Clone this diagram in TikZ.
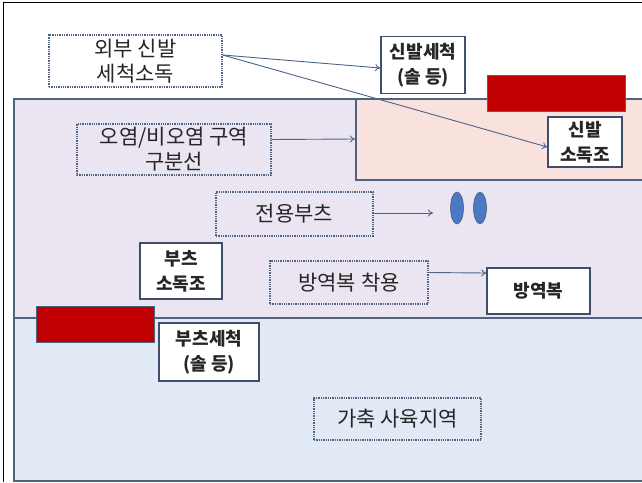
\documentclass[tikz,border=0pt]{standalone}
\usepackage{fontspec}
\setmainfont{Noto Sans CJK KR}
\usetikzlibrary{arrows.meta,shapes.geometric}
\definecolor{frameline}{RGB}{79,98,128}
\definecolor{boxline}{RGB}{63,79,107}
\definecolor{lavender}{RGB}{235,229,241}
\definecolor{peach}{RGB}{249,226,222}
\definecolor{farmblue}{RGB}{226,234,246}
\definecolor{matred}{RGB}{192,0,0}
\definecolor{bootblue}{RGB}{74,120,194}
\definecolor{arrowline}{RGB}{74,99,137}
\tikzset{
  dotbox/.style={draw=frameline, densely dotted, line width=1.3pt, text=black!85, font=\fontsize{21}{25}\selectfont, align=center, inner sep=0pt},
  solidbox/.style={draw=boxline, line width=1.5pt, fill=white, text=black!85, font=\fontsize{18}{25}\selectfont\bfseries, align=center, inner sep=0pt},
  flow/.style={draw=arrowline, line width=0.9pt, -{To[length=5pt,width=7pt]}}
}
\begin{document}
\begin{tikzpicture}[x=1pt,y=-1pt]
	\useasboundingbox (0,0) rectangle (642,482);
	
	%% areas
	\fill [white] (0,0) rectangle (642,482);
	\draw [black, line width=1pt] (3,482) -- (3,2) -- (642,2);
	\draw [frameline, line width=1.5pt, fill=lavender] (643,99) -- (14,99) -- (14,318) -- (643,318);
	\draw [frameline, line width=1.5pt, fill=peach] (643,99) -- (356,99) -- (356,180) -- (643,180);
	\draw [frameline, line width=1.5pt, fill=farmblue] (643,318) -- (14,318) -- (14,481) -- (643,481);
	\fill [matred, draw=frameline, line width=0.8pt] (487,75) rectangle (625,111);
	\fill [matred, draw=frameline, line width=0.8pt] (36,306) rectangle (154,342);
	
	%% boxes
	\node [dotbox, minimum width=173pt, minimum height=52pt] (outer) at (135.5,61) {외부 신발\\세척소독};
	\node [solidbox, minimum width=84pt, minimum height=57pt] (wash) at (423,65) {신발세척\\(솔 등)};
	\node [solidbox, minimum width=74pt, minimum height=50pt] (dip) at (585,142) {신발\\소독조};
	\node [dotbox, minimum width=194pt, minimum height=51pt] (zone) at (174,149.5) {오염/비오염 구역\\구분선};
	\node [dotbox, minimum width=157pt, minimum height=44pt] (boots) at (294.5,214) {전용부츠};
	\node [solidbox, minimum width=82pt, minimum height=56pt] (bootdip) at (181,271) {부츠\\소독조};
	\node [dotbox, minimum width=158pt, minimum height=43pt] (wear) at (349,282.5) {방역복 착용};
	\node [solidbox, minimum width=103pt, minimum height=46pt] (suit) at (538.5,291) {방역복};
	\node [solidbox, minimum width=100pt, minimum height=58pt] (bootwash) at (209,352) {부츠세척\\(솔 등)};
	\node [dotbox, minimum width=167pt, minimum height=42pt] (farm) at (397.5,419) {가축 사육지역};
	
	%% boots
	\node [ellipse, fill=bootblue, draw=frameline, line width=0.6pt, minimum width=13pt, minimum height=32pt, inner sep=0pt] (bootl) at (457,208) {};
	\node [ellipse, fill=bootblue, draw=frameline, line width=0.6pt, minimum width=13pt, minimum height=32pt, inner sep=0pt] (bootr) at (480,208) {};
	
	%% arrows
	\coordinate (pinkedge) at (355,139);
	\coordinate (bootsgoal) at (433,213);
	\draw [flow] ([yshift=6pt]outer.east) -- ([yshift=-3pt]wash.west);
	\draw [flow] ([yshift=6pt]outer.east) -- ([yshift=-5pt]dip.west);
	\draw [flow] ([yshift=10pt]zone.east) -- (pinkedge);
	\draw [flow] ([yshift=1pt]boots.east) -- (bootsgoal);
	\draw [flow] ([yshift=10pt]wear.east) -- ([yshift=18pt]suit.west);

\end{tikzpicture}
\end{document}
